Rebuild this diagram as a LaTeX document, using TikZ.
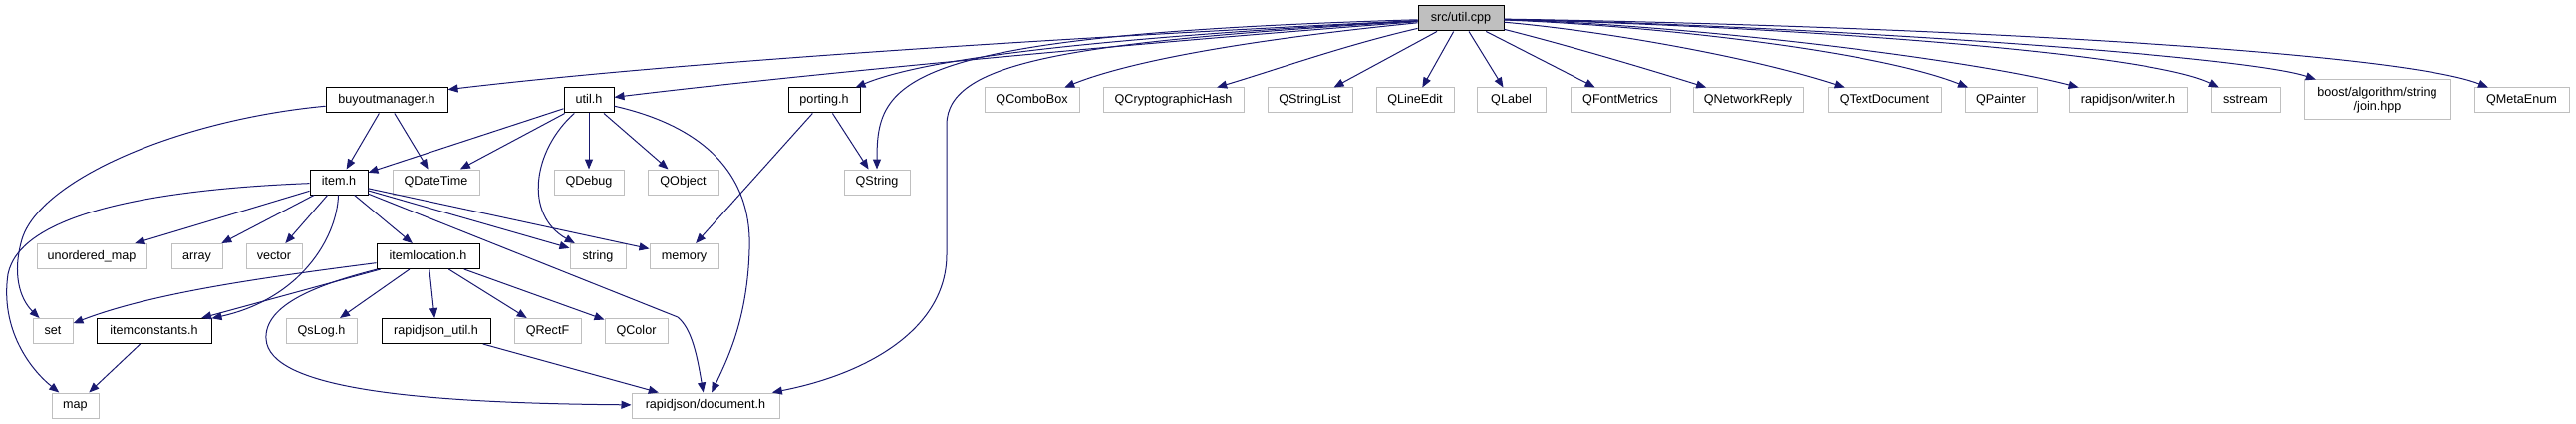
\documentclass[tikz,border=0pt]{standalone}
\usepackage{fontspec}
\setmainfont{Liberation Sans}
\usetikzlibrary{arrows.meta}
\definecolor{edgecol}{HTML}{191970}
\definecolor{boxgray}{HTML}{BFBFBF}
\begin{document}
\begin{tikzpicture}[x=1pt,y=-1pt,
  every node/.style={font=\fontsize{12.6}{14}\selectfont},
  ext/.style={draw=boxgray, line width=1pt, inner sep=0pt, minimum height=25, text height=9.3pt, text depth=2.7pt},
  hdr/.style={ext, draw=black},
  edge/.style={draw=edgecol, line width=1pt, -{Triangle[length=10pt,width=8pt]}}]
\useasboundingbox (0,0) rectangle (2585,425);
% row 0
\node[hdr, fill=boxgray, minimum width=86] (utilcpp) at (1466,18.5) {src/util.cpp};
% row 1
\node[hdr, minimum width=122] (buyout) at (388,100.5) {buyoutmanager.h};
\node[hdr, minimum width=50] (utilh) at (591,100.5) {util.h};
\node[hdr, minimum width=72] (porting) at (827,100.5) {porting.h};
\node[ext, minimum width=95] (qcombo) at (1035.5,100.5) {QComboBox};
\node[ext, minimum width=141] (qcrypto) at (1177.5,100.5) {QCryptographicHash};
\node[ext, minimum width=85] (qstrlist) at (1314.5,100.5) {QStringList};
\node[ext, minimum width=78] (qlineedit) at (1420,100.5) {QLineEdit};
\node[ext, minimum width=69] (qlabel) at (1516.5,100.5) {QLabel};
\node[ext, minimum width=100] (qfont) at (1626,100.5) {QFontMetrics};
\node[ext, minimum width=110] (qnet) at (1754,100.5) {QNetworkReply};
\node[ext, minimum width=114] (qtextdoc) at (1891,100.5) {QTextDocument};
\node[ext, minimum width=72] (qpainter) at (2008,100.5) {QPainter};
\node[ext, minimum width=119] (rjwriter) at (2135.5,100.5) {rapidjson/writer.h};
\node[ext, minimum width=69] (sstream) at (2253.5,100.5) {sstream};
\node[draw=boxgray, line width=1pt, inner sep=0pt, minimum width=147, minimum height=40, align=center, font=\fontsize{12.6}{13.5}\selectfont] (boost) at (2385.5,100) {boost/algorithm/string\\/join.hpp};
\node[ext, minimum width=95] (qmeta) at (2530.5,100.5) {QMetaEnum};
% row 2
\node[hdr, minimum width=58] (itemh) at (340,182.5) {item.h};
\node[ext, minimum width=87] (qdatetime) at (437.5,182.5) {QDateTime};
\node[ext, minimum width=70] (qdebug) at (591,182.5) {QDebug};
\node[ext, minimum width=71] (qobject) at (685.5,182.5) {QObject};
\node[ext, minimum width=66] (qstring) at (880,182.5) {QString};
% row 3
\node[ext, minimum width=110] (umap) at (92,257) {unordered\_map};
\node[ext, minimum width=51] (array) at (197.5,257) {array};
\node[ext, minimum width=56] (vector) at (275,257) {vector};
\node[hdr, minimum width=103] (itemloc) at (429.5,257) {itemlocation.h};
\node[ext, minimum width=56] (string) at (600,257) {string};
\node[ext, minimum width=69] (memory) at (686.5,257) {memory};
% row 4
\node[ext, minimum width=40] (set) at (53,332) {set};
\node[hdr, minimum width=115] (itemconst) at (154.5,332) {itemconstants.h};
\node[ext, minimum width=71] (qslog) at (322.5,332) {QsLog.h};
\node[hdr, minimum width=109] (rjutil) at (437.5,332) {rapidjson\_util.h};
\node[ext, minimum width=67] (qrectf) at (549.5,332) {QRectF};
\node[ext, minimum width=63] (qcolor) at (638.5,332) {QColor};
% row 5
\node[ext, minimum width=47] (map) at (75.5,406.5) {map};
\node[ext, minimum width=148] (rjdoc) at (708,406.5) {rapidjson/document.h};

% edges from src/util.cpp
\draw[edge] (utilcpp) .. controls (1100,36) and (700,60) .. (buyout.10);
\draw[edge] (utilcpp) .. controls (1150,42) and (800,75) .. (utilh);
\draw[edge] (utilcpp) .. controls (1100,38) and (930,58) .. (porting);
\draw[edge] (utilcpp) .. controls (900,35) and (880,80) .. (qstring);
\draw[edge] (utilcpp) .. controls (1080,42) and (950,60) .. (950,125) -- (950,255) .. controls (950,330) and (870,375) .. (rjdoc);
\draw[edge] (utilcpp) .. controls (1300,35) and (1150,55) .. (qcombo);
\draw[edge] (utilcpp) .. controls (1350,45) and (1280,70) .. (qcrypto);
\draw[edge] (utilcpp) -- (qstrlist);
\draw[edge] (utilcpp) -- (qlineedit);
\draw[edge] (utilcpp) -- (qlabel);
\draw[edge] (utilcpp) -- (qfont);
\draw[edge] (utilcpp) .. controls (1560,42) and (1630,62) .. (qnet);
\draw[edge] (utilcpp) .. controls (1600,30) and (1750,55) .. (qtextdoc);
\draw[edge] (utilcpp) .. controls (1650,25) and (1880,50) .. (qpainter);
\draw[edge] (utilcpp) .. controls (1700,25) and (1980,60) .. (rjwriter);
\draw[edge] (utilcpp) .. controls (1750,25) and (2150,50) .. (sstream);
\draw[edge] (utilcpp) .. controls (1800,25) and (2250,55) .. (boost);
\draw[edge] (utilcpp) .. controls (1900,25) and (2400,50) .. (qmeta);
% buyoutmanager.h
\draw[edge] (buyout) -- (itemh);
\draw[edge] (buyout) -- (qdatetime);
\draw[edge] (buyout) .. controls (180,120) and (40,180) .. (22,240) .. controls (12,275) and (20,300) .. (set);
% util.h
\draw[edge] (utilh) -- (itemh);
\draw[edge] (utilh) -- (qdatetime);
\draw[edge] (utilh) .. controls (535,150) and (525,215) .. (string);
\draw[edge] (utilh) -- (qdebug);
\draw[edge] (utilh) -- (qobject);
\draw[edge] (utilh) .. controls (700,125) and (755,170) .. (752,250) .. controls (750,320) and (730,360) .. (rjdoc);
% porting.h
\draw[edge] (porting) -- (qstring);
\draw[edge] (porting) -- (memory);
% item.h
\draw[edge] (itemh) .. controls (150,190) and (20,215) .. (8,275) .. controls (0,330) and (30,370) .. (map);
\draw[edge] (itemh) -- (umap);
\draw[edge] (itemh) -- (array);
\draw[edge] (itemh) -- (vector);
\draw[edge] (itemh) .. controls (338,240) and (300,300) .. (itemconst);
\draw[edge] (itemh) -- (itemloc);
\draw[edge] (itemh) -- (string);
\draw[edge] (itemh) -- (memory);
\draw[edge] (itemh) -- (680,318) .. controls (695,330) and (700,360) .. (rjdoc);
% itemlocation.h
\draw[edge] (itemloc) .. controls (250,280) and (150,295) .. (set);
\draw[edge] (itemloc) -- (itemconst);
\draw[edge] (itemloc) .. controls (320,285) and (265,305) .. (267,340) .. controls (270,390) and (420,404) .. (rjdoc);
\draw[edge] (itemloc) -- (qslog);
\draw[edge] (itemloc) -- (rjutil);
\draw[edge] (itemloc) -- (qrectf);
\draw[edge] (itemloc) -- (qcolor);
% others
\draw[edge] (rjutil) -- (rjdoc);
\draw[edge] (itemconst) -- (map);
\end{tikzpicture}
\end{document}
